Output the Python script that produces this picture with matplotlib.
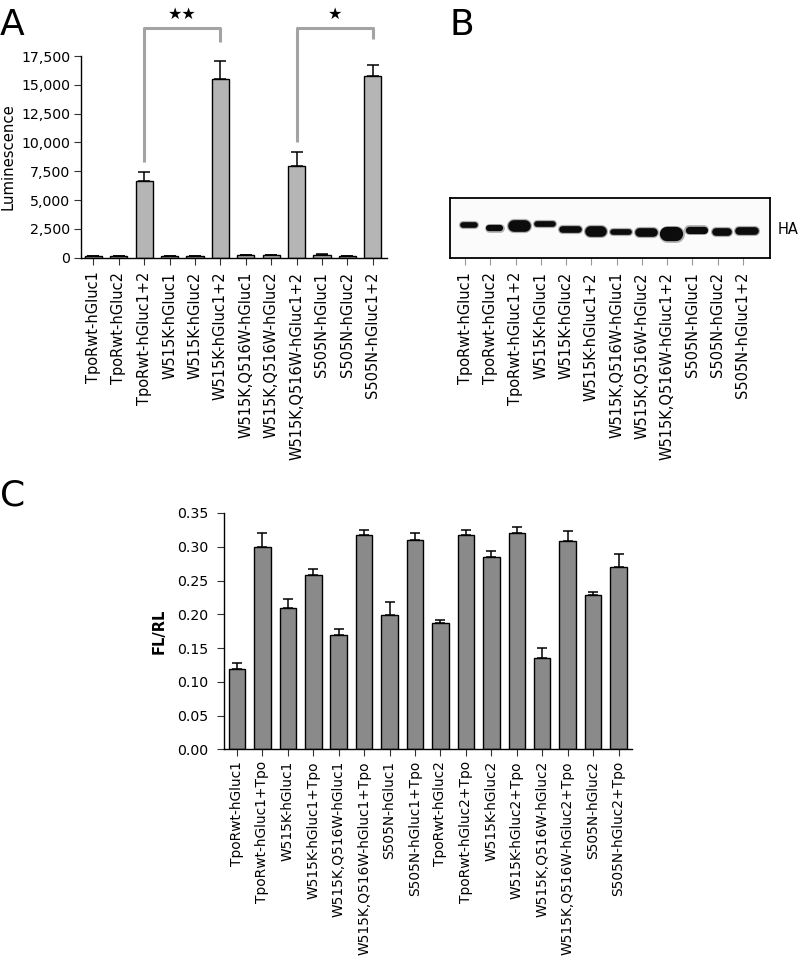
import numpy as np
import matplotlib
matplotlib.use("Agg")
import matplotlib.pyplot as plt
from matplotlib.ticker import FuncFormatter

# panel A data
a_labels = ["TpoRwt-hGluc1", "TpoRwt-hGluc2", "TpoRwt-hGluc1+2",
            "W515K-hGluc1", "W515K-hGluc2", "W515K-hGluc1+2",
            "W515K,Q516W-hGluc1", "W515K,Q516W-hGluc2", "W515K,Q516W-hGluc1+2",
            "S505N-hGluc1", "S505N-hGluc2", "S505N-hGluc1+2"]
a_values = [150, 150, 6650, 120, 120, 15480, 200, 200, 7980, 250, 140, 15760]
a_upper = [180, 180, 7410, 150, 150, 17070, 230, 240, 9150, 330, 170, 16720]

# significance brackets: (left bar, right bar, left leg end, right leg end, stars)
brackets = [(2, 5, 8330, 18740, "\u2605\u2605"),
            (8, 11, 10060, 18980, "\u2605")]
bracket_top = 19930

# panel B (western blot, HA) band appearance per lane (y, height in px inside the box)
b_labels = a_labels
band_y = [26.5, 29.5, 27.7, 25.8, 31.3, 33.3, 34.2, 33.7, 36.3, 32.3, 34.2, 32.5]
band_h = [5.7, 6.3, 11.7, 5.7, 6.7, 10.7, 5.7, 8.7, 14.3, 7.3, 7.7, 7.7]
band_w = [0.67, 0.71, 0.91, 0.87, 0.87, 0.87, 0.87, 0.91, 0.91, 0.87, 0.79, 0.91]

# panel C data
c_labels = ["TpoRwt-hGluc1", "TpoRwt-hGluc1+Tpo", "W515K-hGluc1", "W515K-hGluc1+Tpo",
            "W515K,Q516W-hGluc1", "W515K,Q516W-hGluc1+Tpo", "S505N-hGluc1", "S505N-hGluc1+Tpo",
            "TpoRwt-hGluc2", "TpoRwt-hGluc2+Tpo", "W515K-hGluc2", "W515K-hGluc2+Tpo",
            "W515K,Q516W-hGluc2", "W515K,Q516W-hGluc2+Tpo", "S505N-hGluc2", "S505N-hGluc2+Tpo"]
c_values = [0.119, 0.299, 0.209, 0.258, 0.170, 0.317, 0.199, 0.310,
            0.187, 0.317, 0.285, 0.320, 0.135, 0.308, 0.228, 0.270]
c_upper = [0.128, 0.320, 0.222, 0.267, 0.178, 0.325, 0.218, 0.320,
           0.192, 0.325, 0.294, 0.329, 0.150, 0.323, 0.233, 0.290]

plt.rcParams["font.family"] = ["DejaVu Sans"]

W, H = 799, 965
fig = plt.figure(figsize=(W / 100, H / 100), dpi=100)

def box(x0, y0, x1, y1):
    # pixel box (top-left origin) -> figure fraction rect
    return [x0 / W, 1 - y1 / H, (x1 - x0) / W, (y1 - y0) / H]

# ---------------- A ----------------
ax = fig.add_axes(box(80.5, 56, 386.7, 257.7))
xa = np.arange(len(a_values))
ax.bar(xa, a_values, width=0.68, color="#b5b5b5", edgecolor="black", linewidth=1.0, zorder=2)
ax.errorbar(xa, a_values, yerr=[np.zeros(len(a_values)), np.array(a_upper) - np.array(a_values)],
            fmt="none", ecolor="black", elinewidth=1.1, capsize=4, capthick=1.1, zorder=1)
ax.set_xlim(-0.51, 11.55)
ax.set_ylim(0, 17500)
ax.set_yticks(np.arange(0, 17501, 2500))
ax.yaxis.set_major_formatter(FuncFormatter(lambda v, p: f"{int(v):,}"))
ax.set_xticks(xa)
ax.set_xticklabels(a_labels, rotation=90, fontsize=10.5)
ax.tick_params(axis="y", labelsize=10.2, length=5, width=0.8, pad=2.5, color="#333333")
ax.tick_params(axis="x", length=5, width=0.8, pad=5, color="#333333")
ax.set_ylabel("Luminescence", fontsize=10.7, labelpad=4)
for s in ["top", "right"]:
    ax.spines[s].set_visible(False)
for s in ["left", "bottom"]:
    ax.spines[s].set_linewidth(1.0)
for l, r, ly, ry, st in brackets:
    ax.plot([l, l, r, r], [ly, bracket_top, bracket_top, ry], color="#a3a3a3", lw=2.2,
            solid_joinstyle="round", solid_capstyle="butt", clip_on=False)
    ax.text((l + r) / 2, 21100, st, ha="center", va="center", fontsize=11.5, clip_on=False)

fig.text(0 / W, 1 - 35 / H, "A", fontsize=26, ha="left", va="baseline")

# ---------------- B ----------------
bx0, bx1 = 450, 770
axb = fig.add_axes(box(bx0, 198, bx1, 258))
axb.set_facecolor("#fbfbfb")
xb = np.arange(len(b_labels))
axb.set_xlim(-0.594, 12.07)
axb.set_ylim(60, 0)
px_per_lane = (bx1 - bx0) / (12.07 + 0.594)
for i in xb:
    cx = i + 0.16
    # straight part of the band, round caps add half the band height on each side
    half = max(band_w[i] * px_per_lane - band_h[i], 1) / 2 / px_per_lane
    axb.plot([cx - half, cx + half], [band_y[i], band_y[i]], color="#555555", alpha=0.45,
             lw=(band_h[i] + 2.5) * 0.72, solid_capstyle="round")
    axb.plot([cx - half, cx + half], [band_y[i], band_y[i]], color="#0c0c0c",
             lw=band_h[i] * 0.72, solid_capstyle="round")
axb.set_yticks([])
axb.set_xticks(xb)
axb.set_xticklabels(b_labels, rotation=90, fontsize=10.5)
axb.tick_params(axis="x", length=5, width=0.8, pad=5, color="#999999")
for s in axb.spines.values():
    s.set_linewidth(1.3)
axb.text(1.025, 0.48, "HA", transform=axb.transAxes, fontsize=10.5, ha="left", va="center")

fig.text(450 / W, 1 - 35 / H, "B", fontsize=26, ha="left", va="baseline")

# ---------------- C ----------------
axc = fig.add_axes(box(224, 513, 632, 749.3))
xc = np.arange(len(c_values))
axc.bar(xc, c_values, width=0.65, color="#8a8a8a", edgecolor="black", linewidth=1.0, zorder=2)
axc.errorbar(xc, c_values, yerr=[np.zeros(len(c_values)), np.array(c_upper) - np.array(c_values)],
             fmt="none", ecolor="black", elinewidth=1.1, capsize=3.5, capthick=1.1, zorder=1)
axc.set_xlim(-0.51, 15.53)
axc.set_ylim(0, 0.35)
axc.set_yticks(np.arange(0, 0.351, 0.05))
axc.yaxis.set_major_formatter(FuncFormatter(lambda v, p: f"{v:.2f}"))
axc.set_xticks(xc)
axc.set_xticklabels(c_labels, rotation=90, fontsize=9.9)
axc.tick_params(axis="y", labelsize=10.2, length=5, width=0.8, pad=6, color="#333333")
axc.tick_params(axis="x", length=5, width=0.8, pad=3.5, color="#333333")
axc.set_ylabel("FL/RL", fontsize=10.5, fontweight="bold", labelpad=8)
for s in ["top", "right"]:
    axc.spines[s].set_visible(False)
for s in ["left", "bottom"]:
    axc.spines[s].set_linewidth(1.0)

fig.text(0 / W, 1 - 505 / H, "C", fontsize=26, ha="left", va="baseline")

fig.savefig("out.png", dpi=100)
